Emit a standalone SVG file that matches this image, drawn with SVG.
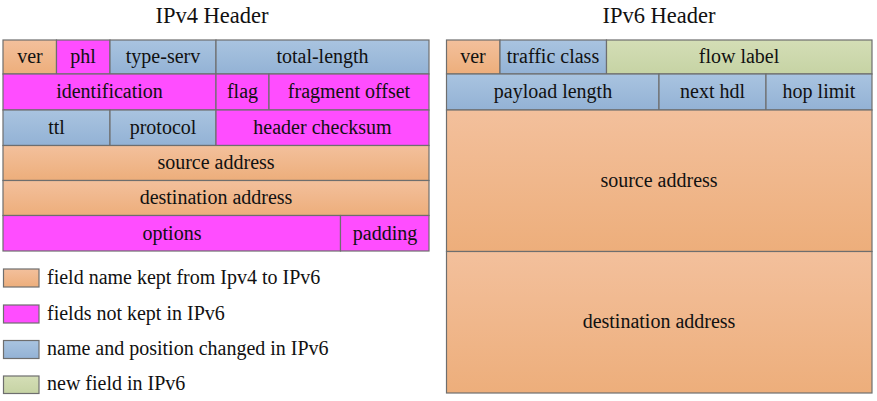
<svg xmlns="http://www.w3.org/2000/svg" width="877" height="401" viewBox="0 0 877 401" font-family="'Liberation Serif', 'Times New Roman', serif">
<defs>
<linearGradient id="gO" x1="0" y1="0" x2="0" y2="1"><stop offset="0" stop-color="#F3C09C"/><stop offset="1" stop-color="#EDAE7B"/></linearGradient>
<linearGradient id="gB" x1="0" y1="0" x2="0" y2="1"><stop offset="0" stop-color="#A9C4E0"/><stop offset="1" stop-color="#93B2D5"/></linearGradient>
<linearGradient id="gG" x1="0" y1="0" x2="0" y2="1"><stop offset="0" stop-color="#D4DEB6"/><stop offset="1" stop-color="#C6D3A4"/></linearGradient>
<style>
rect{stroke:#6e6e6e;stroke-width:1.2}
.o{fill:url(#gO)}
.p{fill:#FF4DFF}
.b{fill:url(#gB)}
.g{fill:url(#gG)}
text{font-family:"Liberation Serif","Times New Roman",serif;font-size:20px;fill:#111;text-anchor:middle}
.t{font-size:22.5px}
.l{text-anchor:start}
</style>
</defs>
<text class="t" x="212" y="23">IPv4 Header</text>
<text class="t" x="659" y="23">IPv6 Header</text>
<g id="ipv4">
<g id="v4-ver"><rect class="o" x="3" y="40" width="53.5" height="34"/><text x="30" y="63">ver</text></g>
<g id="v4-phl"><rect class="p" x="56.5" y="40" width="53.5" height="34"/><text x="83" y="63">phl</text></g>
<g id="v4-type"><rect class="b" x="110" y="40" width="106" height="34"/><text x="163" y="63">type-serv</text></g>
<g id="v4-total"><rect class="b" x="216" y="40" width="213" height="34"/><text x="322.5" y="63">total-length</text></g>
<g id="v4-id"><rect class="p" x="3" y="74" width="213" height="36"/><text x="109.5" y="98">identification</text></g>
<g id="v4-flag"><rect class="p" x="216" y="74" width="53" height="36"/><text x="242.5" y="98">flag</text></g>
<g id="v4-frag"><rect class="p" x="269" y="74" width="160" height="36"/><text x="349" y="98">fragment offset</text></g>
<g id="v4-ttl"><rect class="b" x="3" y="110" width="107" height="35.5"/><text x="56.5" y="134">ttl</text></g>
<g id="v4-proto"><rect class="b" x="110" y="110" width="106" height="35.5"/><text x="163" y="134">protocol</text></g>
<g id="v4-cksum"><rect class="p" x="216" y="110" width="213" height="35.5"/><text x="322.5" y="134">header checksum</text></g>
<g id="v4-src"><rect class="o" x="3" y="145.5" width="426" height="35"/><text x="216" y="169">source address</text></g>
<g id="v4-dst"><rect class="o" x="3" y="180.5" width="426" height="35"/><text x="216" y="204">destination address</text></g>
<g id="v4-opt"><rect class="p" x="3" y="215.5" width="337.5" height="35.5"/><text x="172" y="240">options</text></g>
<g id="v4-pad"><rect class="p" x="340.5" y="215.5" width="88.5" height="35.5"/><text x="385" y="240">padding</text></g>
</g>
<g id="ipv6">
<g id="v6-ver"><rect class="o" x="446.5" y="40" width="53.5" height="34"/><text x="473" y="63">ver</text></g>
<g id="v6-tc"><rect class="b" x="500" y="40" width="106.5" height="34"/><text x="553" y="63">traffic class</text></g>
<g id="v6-flow"><rect class="g" x="606.5" y="40" width="265.5" height="34"/><text x="739" y="63">flow label</text></g>
<g id="v6-payload"><rect class="b" x="446.5" y="74" width="212.5" height="36"/><text x="553" y="98">payload length</text></g>
<g id="v6-next"><rect class="b" x="659" y="74" width="107" height="36"/><text x="712.5" y="98">next hdl</text></g>
<g id="v6-hop"><rect class="b" x="766" y="74" width="106" height="36"/><text x="819" y="98">hop limit</text></g>
<g id="v6-src"><rect class="o" x="446.5" y="110" width="425.5" height="141.5"/><text x="659" y="187">source address</text></g>
<g id="v6-dst"><rect class="o" x="446.5" y="251.5" width="425.5" height="141.5"/><text x="659" y="328">destination address</text></g>
</g>
<g id="legend">
<g id="leg-kept"><rect class="o" x="3.5" y="269" width="35.5" height="18"/><text class="l" x="47" y="284">field name kept from Ipv4 to IPv6</text></g>
<g id="leg-notkept"><rect class="p" x="3.5" y="305" width="35.5" height="18"/><text class="l" x="47" y="320">fields not kept in IPv6</text></g>
<g id="leg-changed"><rect class="b" x="3.5" y="340.5" width="35.5" height="18"/><text class="l" x="47" y="355">name and position changed in IPv6</text></g>
<g id="leg-new"><rect class="g" x="3.5" y="376" width="35.5" height="17.5"/><text class="l" x="47" y="390">new field in IPv6</text></g>
</g>
<g id="connectors"/>
</svg>
